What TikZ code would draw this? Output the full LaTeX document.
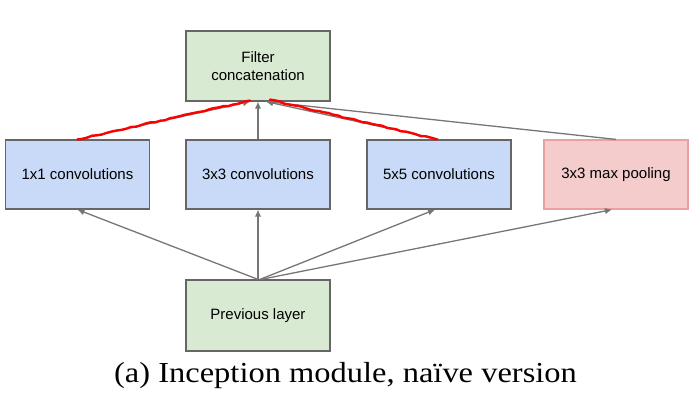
\documentclass[tikz,border=0pt]{standalone}
\usepackage{fontspec}
\setmainfont{Liberation Serif}
\setsansfont{Liberation Sans}
\usetikzlibrary{arrows.meta,decorations.pathmorphing}
\definecolor{bleu}{HTML}{C9DAF8}
\definecolor{vert}{HTML}{D9EAD3}
\definecolor{rose}{HTML}{F4CCCC}
\definecolor{bordrose}{HTML}{E8A0A0}
\definecolor{gris}{HTML}{666666}
\definecolor{fleche}{HTML}{767676}
\begin{document}
\begin{tikzpicture}[x=1pt,y=-1pt]
\tikzset{boite/.style={draw=gris, line width=1.2pt, minimum width=144pt, minimum height=69pt, inner sep=0pt,
  align=center, font=\sffamily\fontsize{15}{18}\selectfont},
  trait/.style={fleche, line width=1.3pt, -{Latex[length=7pt,width=6.5pt]}},
  rouge/.style={red, line width=2.4pt, line cap=round, decorate,
  decoration={random steps, segment length=5pt, amplitude=0.7pt}}}
\useasboundingbox (0,0) rectangle (698,413);
\node[boite, fill=vert, minimum height=70pt] (F) at (258,66) {Filter\\concatenation};
\node[boite, fill=bleu] (C1) at (77.5,174.5) {1x1 convolutions};
\node[boite, fill=bleu] (C3) at (258,174.5) {3x3 convolutions};
\node[boite, fill=bleu] (C5) at (439,174.5) {5x5 convolutions};
\node[boite, fill=rose, draw=bordrose] (P) at (616,174.5) {3x3 max pooling};
\node[boite, fill=vert, minimum height=71pt] (L) at (258,315.5) {Previous layer};
\draw[trait] (L.north) -- (C1.south);
\draw[trait] (L.north) -- (C3.south);
\draw[trait] ([xshift=2pt]L.north) -- ([xshift=-4pt]C5.south);
\draw[trait] ([xshift=3pt]L.north) -- ([xshift=-4pt]P.south);
\draw[trait] (C1.north) -- ([xshift=-8pt]F.south);
\draw[trait] (C3.north) -- (F.south);
\draw[trait] (C5.north) -- ([xshift=8pt]F.south);
\draw[trait] (P.north) -- ([xshift=8pt]F.south);
\draw[rouge] (C1.north) -- ([xshift=-8pt,yshift=1pt]F.south);
\draw[rouge] ([xshift=12pt,yshift=2pt]F.south) -- ([xshift=-2pt]C5.north);
\node[anchor=base, xscale=1.12, transform shape, font=\fontsize{29}{32}\selectfont] (T) at (345.5,382) {(a)\ Inception module, naïve version};
\end{tikzpicture}
\end{document}
